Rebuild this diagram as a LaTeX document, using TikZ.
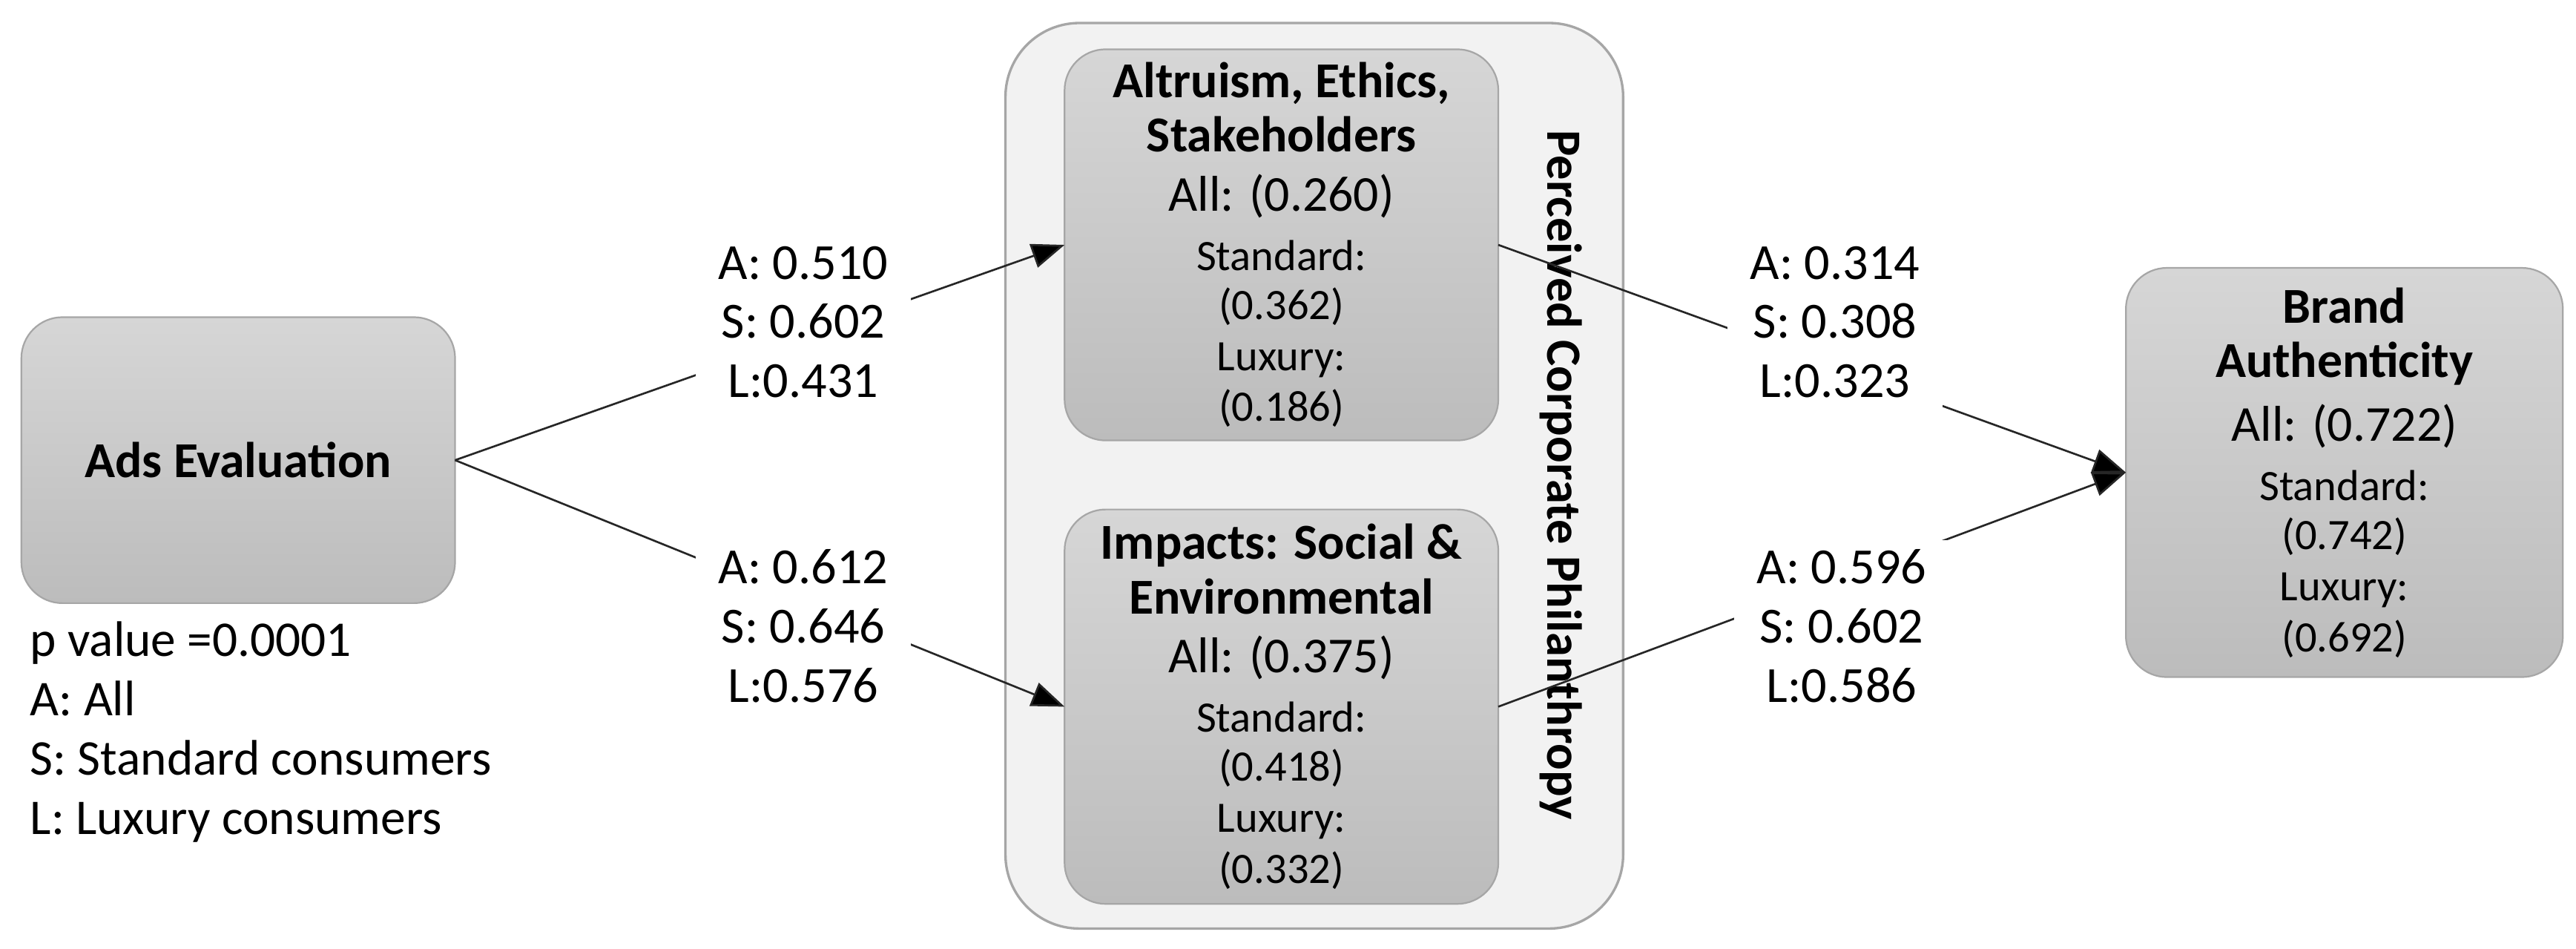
\documentclass[tikz,border=0pt]{standalone}
\usepackage{fontspec}
\setmainfont{Carlito}
\usetikzlibrary{arrows.meta}
\definecolor{boxtop}{HTML}{D6D6D6}
\definecolor{boxbot}{HTML}{BCBCBC}
\definecolor{boxline}{HTML}{A6A6A6}
\definecolor{panel}{HTML}{F2F2F2}
\definecolor{edgecol}{HTML}{262626}
\newcommand{\smalltxt}[1]{{\fontsize{13.2}{15}\selectfont #1}}
\begin{document}
\begin{tikzpicture}[x=0.5pt,y=-0.5pt,
  gbox/.style={draw=boxline, line width=0.5pt, rounded corners=12.5pt,
    top color=boxtop, bottom color=boxbot, align=center, inner sep=0pt,
    outer sep=0pt, font=\fontsize{15.3}{18.5}\selectfont},
  panelbox/.style={draw=boxline, line width=0.75pt, rounded corners=22.5pt,
    fill=panel, inner sep=0pt, outer sep=0pt},
  edge/.style={draw=edgecol, line width=0.6pt, -{Triangle[length=10pt,width=7.5pt,fill=black]}},
  lab/.style={fill=white, align=center, inner xsep=7pt, inner ysep=3pt,
    font=\fontsize{15.4}{18}\selectfont}
]
\useasboundingbox (0,0) rectangle (1568,577.4);

% container
\node[panelbox, minimum width=188pt, minimum height=275.5pt] (pcp) at (800,289.5) {};
\node[rotate=-90, font=\fontsize{15}{18}\selectfont\bfseries] (pcptitle) at (950,289) {Perceived Corporate Philanthropy};

% boxes
\node[gbox, minimum width=132pt, minimum height=87pt] (ads) at (145,280) {\bfseries Ads Evaluation};

\node[gbox, minimum width=132pt, minimum height=119pt] (alt) at (780,149)
 {{\bfseries Altruism, Ethics,}\\[-2pt]{\bfseries Stakeholders}\\[-0.5pt]All: (0.260)\\[-0.5pt]\smalltxt{Standard:}\\[-3.5pt]\smalltxt{(0.362)}\\[-3pt]\smalltxt{Luxury:}\\[-3pt]\smalltxt{(0.186)}};

\node[gbox, minimum width=132pt, minimum height=120pt] (imp) at (780,430)
 {{\bfseries Impacts: Social \&}\\[-2pt]{\bfseries Environmental}\\[-0.5pt]All: (0.375)\\[-0.5pt]\smalltxt{Standard:}\\[-3.5pt]\smalltxt{(0.418)}\\[-3pt]\smalltxt{Luxury:}\\[-3pt]\smalltxt{(0.332)}};

\node[gbox, minimum width=133pt, minimum height=124.5pt] (brand) at (1427,287.5)
 {{\bfseries Brand}\\[-2pt]{\bfseries Authenticity}\\[1pt]All: (0.722)\\[-0.5pt]\smalltxt{Standard:}\\[-3.5pt]\smalltxt{(0.742)}\\[-3pt]\smalltxt{Luxury:}\\[-3pt]\smalltxt{(0.692)}};

% legend
\node[anchor=north west, align=left, inner sep=0pt, font=\fontsize{15.2}{18}\selectfont] (legend) at (18,378)
 {p value =0.0001\\A: All\\S: Standard consumers\\L: Luxury consumers};

% connectors
\draw[edge] (ads.east) -- (alt.west);
\draw[edge] (ads.east) -- (imp.west);
\draw[edge] (alt.east) -- (brand.west);
\draw[edge] (imp.east) -- (brand.west);

% labels
\node[lab] (l1) at (489,196) {A: 0.510\\S: 0.602\\L:0.431};
\node[lab] (l2) at (489,381) {A: 0.612\\S: 0.646\\L:0.576};
\node[lab] (l3) at (1117,196) {A: 0.314\\S: 0.308\\L:0.323};
\node[lab] (l4) at (1121,381) {A: 0.596\\S: 0.602\\L:0.586};
\end{tikzpicture}
\end{document}
